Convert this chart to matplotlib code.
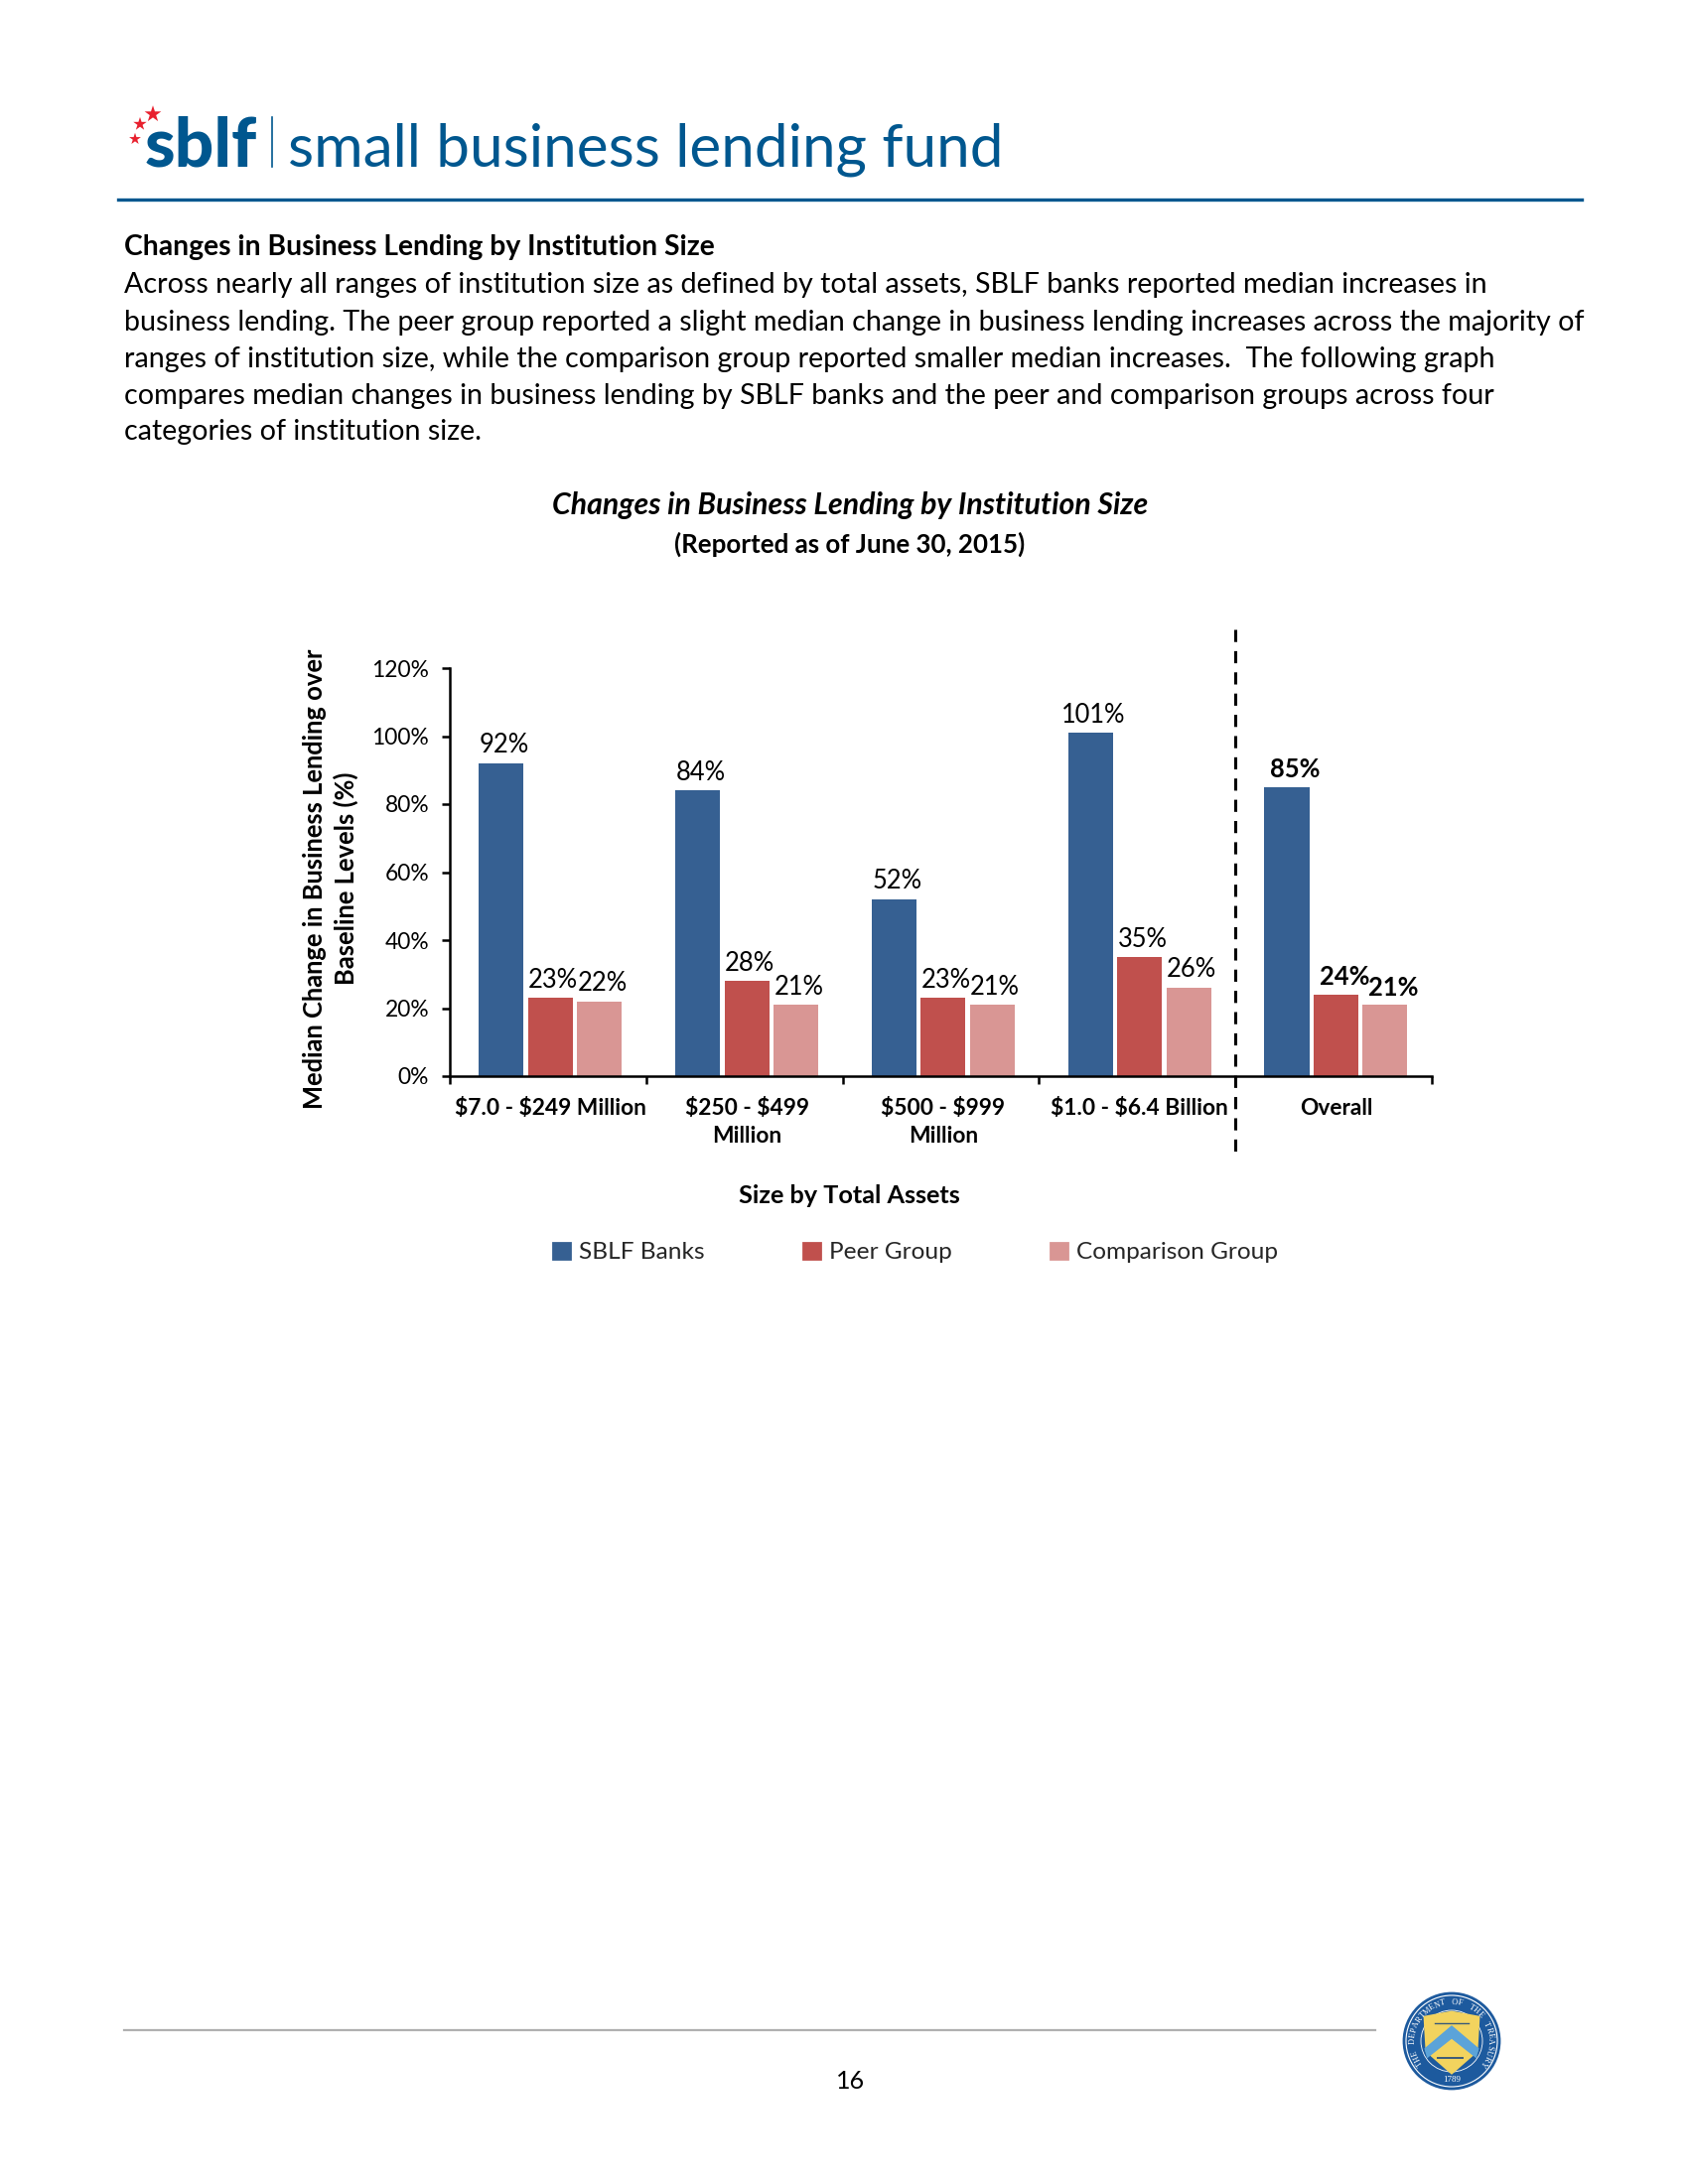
import numpy as np
import matplotlib
matplotlib.use("Agg")
import matplotlib.pyplot as plt
from matplotlib.patches import Circle, Polygon, Patch

plt.rcParams['font.family'] = ['Lato', 'DejaVu Sans']

categories = [r'\$7.0 - \$249 Million', '\\$250 - \\$499\nMillion', '\\$500 - \\$999\nMillion', r'\$1.0 - \$6.4 Billion', 'Overall']
sblf = [92, 84, 52, 101, 85]
peer = [23, 28, 23, 35, 24]
comparison = [22, 21, 21, 26, 21]
yticks = [0, 20, 40, 60, 80, 100, 120]

heading = 'Changes in Business Lending by Institution Size'
body = [
    'Across nearly all ranges of institution size as defined by total assets, SBLF banks reported median increases in',
    'business lending. The peer group reported a slight median change in business lending increases across the majority of',
    'ranges of institution size, while the comparison group reported smaller median increases.  The following graph',
    'compares median changes in business lending by SBLF banks and the peer and comparison groups across four',
    'categories of institution size.',
]
body_y = [287, 325, 362, 399, 435]

BLUE = '#366092'
RED = '#C0504D'
PINK = '#D99694'
LOGO = '#00578F'
W, H = 1700, 2200

fig = plt.figure(figsize=(8.5, 11), dpi=200)

# page layer in pixel coordinates
page = fig.add_axes([0, 0, 1, 1])
page.set_xlim(0, W)
page.set_ylim(H, 0)
page.axis('off')
page.set_zorder(5)

# logo
page.text(146, 168, 'sblf', fontsize=25, fontweight='black', color=LOGO, va='baseline')
page.plot([274, 274], [118, 168], color=LOGO, lw=0.6)
page.text(290, 168, 'small business lending fund', fontsize=21.7, color=LOGO, va='baseline')
page.scatter([154, 141, 136], [115, 125, 140], s=[40, 26, 20], marker='*', color='#E8202E', linewidths=0)
page.plot([119, 1593], [200.5, 200.5], color=LOGO, lw=1.2)

# intro text
page.text(125, 249, heading, fontsize=10.2, fontweight='bold', color='black', va='center')
for line, y in zip(body, body_y):
    page.text(125, y, line, fontsize=10.3, color='black', va='center')

# chart titles
page.text(856, 509, heading, fontsize=10.9, fontweight='bold', style='italic', ha='center', va='center')
page.text(856, 548, '(Reported as of June 30, 2015)', fontsize=9.3, fontweight='bold', ha='center', va='center')

# chart
ax = fig.add_axes([453 / W, 1 - 1084 / H, (1442 - 453) / W, (1084 - 673) / H])
x = np.arange(len(categories)) + 0.512
width = 0.228
b1 = ax.bar(x - 0.25, sblf, width, color=BLUE, label='SBLF Banks')
b2 = ax.bar(x, peer, width, color=RED, label='Peer Group')
b3 = ax.bar(x + 0.25, comparison, width, color=PINK, label='Comparison Group')
for bars in (b1, b2, b3):
    labels = ax.bar_label(bars, fmt='%d%%', fontsize=9.2, padding=2, color='black')
    for t in labels:
        t.xyann = (1, 2)
    labels[-1].set_fontweight('bold')
    labels[-1].xyann = (3, 2)

ax.set_xlim(0, 5)
ax.set_ylim(0, 120)
ax.set_yticks(yticks)
ax.set_yticklabels([f'{v}%' for v in yticks], fontsize=8.2)
ax.set_xticks(range(6))
ax.set_xticklabels([])
ax.set_xticks(x, minor=True)
ax.set_xticklabels(categories, minor=True, fontsize=8.2, fontweight='bold', linespacing=1.4)
ax.tick_params(axis='x', which='minor', length=0, pad=8)
ax.tick_params(axis='both', which='major', length=3, width=0.9)
ax.tick_params(axis='y', which='major', pad=4.5)
for side in ('top', 'right'):
    ax.spines[side].set_visible(False)
for side in ('left', 'bottom'):
    ax.spines[side].set_linewidth(0.9)

page.text(333, 885, 'Median Change in Business Lending over\nBaseline Levels (%)', fontsize=9.2,
          fontweight='bold', rotation=90, ha='center', va='center', linespacing=1.35)
page.text(855, 1205, 'Size by Total Assets', fontsize=9.1, fontweight='bold', ha='center', va='center')
page.plot([1244, 1244], [634, 1168], color='black', lw=1.1, ls=(0, (4, 3)))

handles = [Patch(color=BLUE), Patch(color=RED), Patch(color=PINK)]
fig.legend(handles, ['SBLF Banks', 'Peer Group', 'Comparison Group'], ncol=3, frameon=False, fontsize=8.8,
           loc='center', bbox_to_anchor=(922 / W, 1 - 1262 / H), handlelength=0.68, handleheight=0.68,
           handletextpad=0.35, columnspacing=4.1, labelcolor='#262626')

# footer
page.plot([125, 1385], [2045, 2045], color='#B0B0B0', lw=0.8)
page.text(857, 2096, '16', fontsize=9, ha='center', va='center')

# treasury seal
cx, cy = 1462, 2056
page.add_patch(Circle((cx, cy), 48, color='#1D5A9E', zorder=3))
page.add_patch(Circle((cx, cy), 46, fill=False, ec='white', lw=0.4, zorder=4))
page.add_patch(Circle((cx, cy), 31, color='#1D5A9E', ec='white', lw=0.3, zorder=4))
page.add_patch(Polygon([(cx - 27, cy - 24), (cx, cy - 29), (cx + 27, cy - 24), (cx + 25, cy + 10), (cx, cy + 32),
                        (cx - 25, cy + 10)], color='#F2D35E', zorder=5))
page.add_patch(Polygon([(cx - 26, cy + 8), (cx, cy - 14), (cx + 26, cy + 8), (cx + 24, cy + 15), (cx, cy - 4),
                        (cx - 24, cy + 15)], color='#5BA3D9', zorder=6))
page.plot([cx - 17, cx + 17], [cy - 18, cy - 18], color='#3A5A78', lw=0.5, zorder=6)
page.plot([cx - 14, cx + 11], [cy + 17, cy + 17], color='#3A5A78', lw=0.7, zorder=6)
seal_text = 'THE DEPARTMENT OF THE TREASURY'
for i, ch in enumerate(seal_text):
    a = np.radians(-125 + 250 * i / (len(seal_text) - 1))
    page.text(cx + 39 * np.sin(a), cy - 39 * np.cos(a), ch, fontsize=3, family='Liberation Serif', color='white',
              rotation=-np.degrees(a), ha='center', va='center', zorder=7)
page.text(cx, cy + 39, '1789', fontsize=3.2, family='Liberation Serif', color='white', ha='center', va='center', zorder=7)

fig.savefig('out.png', dpi=200)
